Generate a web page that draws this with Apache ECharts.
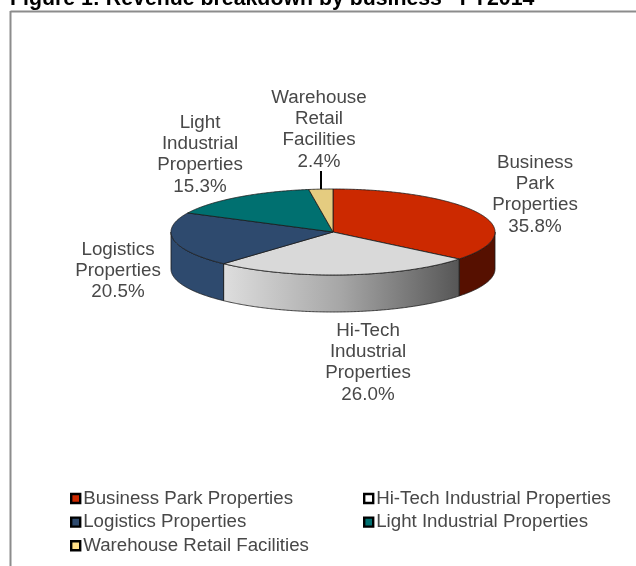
<!DOCTYPE html>
<html><head><meta charset="utf-8">
<style>html,body{margin:0;padding:0;background:#fff}#c{width:636px;height:566px}</style>
<script src="https://cdn.jsdelivr.net/npm/echarts@6/dist/echarts.min.js"></script>
</head><body><div id="c"></div>
<script>
const categories = ['Business Park Properties','Hi-Tech Industrial Properties','Logistics Properties','Light Industrial Properties','Warehouse Retail Facilities'];
const shares = [35.8, 26.0, 20.5, 15.3, 2.4];
const labelLines = [['Business','Park','Properties'],['Hi-Tech','Industrial','Properties'],['Logistics','Properties'],['Light','Industrial','Properties'],['Warehouse','Retail','Facilities']];
const topColors = ['#CC2900','#D9D9D9','#2E4A6E','#007070','#E5CC80'];
const sideColors = ['#561000',null,'#2E4A6E','#004C4C','#9A8850'];
const legendColors = ['#CC2900','#FFFFFF','#2E4A6E','#007070','#FFE08A'];
const labelAnchors = [[535,152],[368,320],[118,239],[200,112],[319,87]];

const PIE = {cx:333, cy:232, rx:162, ry:43, depth:37};
const FONT = '"Liberation Sans", Arial, sans-serif';
const total = shares.reduce((a,b)=>a+b,0);
let acc = 0;
const spans = shares.map(v=>{const s=acc/total*360; acc+=v; return [s, acc/total*360];});
const pt = (deg,dy=0)=>{const r=deg*Math.PI/180; return [PIE.cx+PIE.rx*Math.sin(r), PIE.cy-PIE.ry*Math.cos(r)+dy];};
function arc(a,b,dy){const out=[]; const n=Math.max(2,Math.ceil(Math.abs(b-a)*2)); for(let i=0;i<=n;i++) out.push(pt(a+(b-a)*i/n,dy)); return out;}
const stroke = {stroke:'#1a1a1a', lineWidth:0.8};

function renderSlice(idx){
  return function(){
    const [a,b] = spans[idx];
    const children = [];
    const sa = Math.max(a,90), sb = Math.min(b,270);
    if (sb > sa){
      const pts = arc(sa,sb,0).concat(arc(sb,sa,PIE.depth));
      const fill = idx===1
        ? {type:'linear',x:0,y:0,x2:1,y2:0,colorStops:[{offset:0,color:'#DEDEDE'},{offset:0.5,color:'#a6a6a6'},{offset:1,color:'#565656'}]}
        : sideColors[idx];
      children.push({type:'polygon', shape:{points:pts}, style:{fill, ...stroke}, z2:1});
    }
    const top = [[PIE.cx,PIE.cy]].concat(arc(a,b,0));
    children.push({type:'polygon', shape:{points:top}, style:{fill:topColors[idx], ...stroke}, z2:2});
    const lines = labelLines[idx].concat(shares[idx].toFixed(1)+'%');
    children.push({type:'text', z2:5, style:{x:labelAnchors[idx][0], y:labelAnchors[idx][1], text:lines.join('\n'),
      fill:'#484848', font:'18.8px '+FONT, lineHeight:21.3, align:'center', verticalAlign:'top'}});
    return {type:'group', children};
  };
}

const series = categories.map((name,i)=>({
  type:'custom', name, coordinateSystem:'none', data:[shares[i]], silent:true,
  itemStyle:{color:legendColors[i]}, renderItem:renderSlice(i), clip:false
}));

const legendCommon = {orient:'vertical', icon:'rect', itemWidth:9, itemHeight:9, itemGap:4.6, selectedMode:false, padding:0,
  textStyle:{fontFamily:FONT, fontSize:18.7, color:'#484848', padding:[0,0,0,-2]},
  itemStyle:{borderColor:'#000', borderWidth:2.4}};
const legendData = i=>({name:categories[i], itemStyle:{color:legendColors[i], borderColor:'#000', borderWidth:2.4}});

const chart = echarts.init(document.getElementById('c'),null,{renderer:'canvas'});
chart.setOption({
  animation:false, backgroundColor:'#fff',
  title:{text:'Figure 1: Revenue breakdown by business– FY2014', left:10, top:-11, padding:0,
    textStyle:{fontFamily:FONT, fontSize:21.3, fontWeight:'bold', color:'#000'}},
  legend:[
    {...legendCommon, left:70, top:489, data:[0,2,4].map(legendData)},
    {...legendCommon, left:363, top:489, data:[1,3].map(legendData)}
  ],
  graphic:[
    {type:'line', z:10, shape:{x1:10.5,y1:11.5,x2:636,y2:11.5}, style:{stroke:'#8c8c8c',lineWidth:2}},
    {type:'line', z:10, shape:{x1:10.5,y1:11,x2:10.5,y2:566}, style:{stroke:'#8c8c8c',lineWidth:2}},
    {type:'line', z:10, shape:{x1:321,y1:171,x2:321,y2:189}, style:{stroke:'#000',lineWidth:2}}
  ],
  series
});
</script></body></html>
